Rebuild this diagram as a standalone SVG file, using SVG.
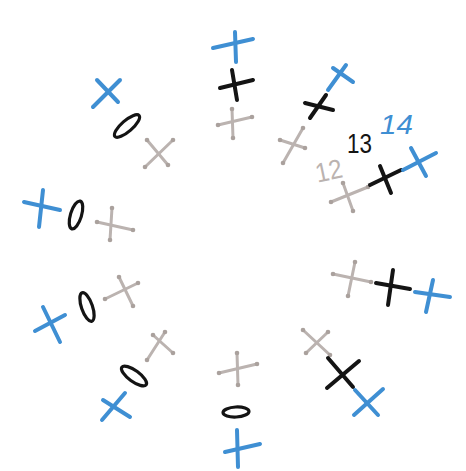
<svg xmlns="http://www.w3.org/2000/svg" width="466" height="471" viewBox="0 0 466 471">
<defs>
<style>
.b{stroke:#3f8fd3;stroke-width:4;stroke-linecap:round;fill:none}
.k{stroke:#141414;stroke-width:4;stroke-linecap:round;fill:none}
.g{stroke:#bbb3b0;stroke-width:3;stroke-linecap:round;fill:none;marker-start:url(#dot);marker-end:url(#dot)}
.o{stroke:#141414;stroke-width:3.2;fill:none}
.t{font-family:"Liberation Sans",Arial,sans-serif;font-size:27px}
</style>
<marker id="dot" markerUnits="userSpaceOnUse" markerWidth="6" markerHeight="6" refX="3" refY="3"><circle cx="3" cy="3" r="2.3" fill="#aaa19d"/></marker>
</defs>
<rect width="466" height="471" fill="#ffffff"/>
<g id="connectors"/>
<!-- top column -->
<g id="top-blue"><line class="b" x1="213" y1="48" x2="253" y2="39"/><line class="b" x1="235" y1="32" x2="236" y2="62"/></g>
<g id="top-black"><line class="k" x1="220" y1="88" x2="253" y2="80"/><line class="k" x1="232" y1="70" x2="237" y2="100"/></g>
<g id="top-grey"><line class="g" x1="218" y1="125" x2="252" y2="117"/><line class="g" x1="232" y1="109" x2="233" y2="138"/></g>
<!-- upper left diagonal -->
<g id="ul-blue"><line class="b" x1="93" y1="107" x2="120" y2="80"/><line class="b" x1="97" y1="80" x2="118" y2="102"/></g>
<g id="ul-oval"><ellipse class="o" cx="127" cy="126" rx="16" ry="5.5" transform="rotate(-41 127 126)"/></g>
<g id="ul-grey"><line class="g" x1="145" y1="167" x2="173" y2="140"/><line class="g" x1="147" y1="140" x2="168" y2="165"/></g>
<!-- left -->
<g id="l-blue"><line class="b" x1="24" y1="202" x2="60" y2="210"/><line class="b" x1="43" y1="190" x2="39" y2="227"/></g>
<g id="l-oval"><ellipse class="o" cx="76" cy="215" rx="14.5" ry="5.5" transform="rotate(-73 76 215)"/></g>
<g id="l-grey"><line class="g" x1="97" y1="222" x2="133" y2="230"/><line class="g" x1="112" y1="208" x2="110" y2="240"/></g>
<!-- lower left -->
<g id="ll-grey1"><line class="g" x1="105" y1="299" x2="138" y2="283"/><line class="g" x1="119" y1="277" x2="133" y2="306"/></g>
<g id="ll-blue1"><line class="b" x1="35" y1="331" x2="65" y2="315"/><line class="b" x1="43" y1="307" x2="60" y2="342"/></g>
<g id="ll-oval1"><ellipse class="o" cx="87" cy="307" rx="15" ry="5.5" transform="rotate(71 87 307)"/></g>
<g id="ll-grey2"><line class="g" x1="147" y1="360" x2="165" y2="332"/><line class="g" x1="153" y1="335" x2="173" y2="353"/></g>
<g id="ll-oval2"><ellipse class="o" cx="134" cy="376" rx="15" ry="5.5" transform="rotate(36 134 376)"/></g>
<g id="ll-blue2"><line class="b" x1="102" y1="420" x2="125" y2="393"/><line class="b" x1="103" y1="400" x2="130" y2="417"/></g>
<!-- bottom column -->
<g id="bot-grey"><line class="g" x1="219" y1="373" x2="257" y2="364"/><line class="g" x1="237" y1="353" x2="238" y2="385"/></g>
<g id="bot-oval"><ellipse class="o" cx="236" cy="412" rx="13" ry="5" transform="rotate(-3 236 412)"/></g>
<g id="bot-blue"><line class="b" x1="225" y1="452" x2="260" y2="444"/><line class="b" x1="237" y1="430" x2="238" y2="467"/></g>
<!-- right -->
<g id="r-grey"><line class="g" x1="333" y1="274" x2="371" y2="282"/><line class="g" x1="355" y1="262" x2="348" y2="296"/></g>
<g id="r-black"><line class="k" x1="376" y1="283" x2="410" y2="289"/><line class="k" x1="393" y1="270" x2="388" y2="305"/></g>
<g id="r-blue"><line class="b" x1="415" y1="292" x2="450" y2="297"/><line class="b" x1="433" y1="280" x2="426" y2="312"/></g>
<!-- lower right -->
<g id="lr-grey"><line class="g" x1="303" y1="330" x2="330" y2="355"/><line class="g" x1="306" y1="353" x2="328" y2="332"/></g>
<g id="lr-black"><line class="k" x1="328" y1="358" x2="353" y2="387"/><line class="k" x1="327" y1="388" x2="359" y2="361"/></g>
<g id="lr-blue"><line class="b" x1="355" y1="390" x2="378" y2="415"/><line class="b" x1="354" y1="415" x2="383" y2="389"/></g>
<!-- upper right diagonal -->
<g id="ur-blue"><line class="b" x1="328" y1="90" x2="346" y2="65"/><line class="b" x1="333" y1="68" x2="353" y2="82"/></g>
<g id="ur-black"><line class="k" x1="310" y1="118" x2="326" y2="95"/><line class="k" x1="305" y1="103" x2="333" y2="110"/></g>
<g id="ur-grey"><line class="g" x1="280" y1="140" x2="305" y2="148"/><line class="g" x1="303" y1="128" x2="283" y2="163"/></g>
<!-- right upper row -->
<g id="ru-grey"><line class="g" x1="331" y1="202" x2="368" y2="187"/><line class="g" x1="343" y1="183" x2="353" y2="211"/></g>
<g id="ru-black"><line class="k" x1="370" y1="185" x2="401" y2="170"/><line class="k" x1="380" y1="166" x2="391" y2="193"/></g>
<g id="ru-blue"><line class="b" x1="403" y1="170" x2="436" y2="153"/><line class="b" x1="411" y1="148" x2="426" y2="176"/></g>
<!-- round numbers -->
<g id="label-12"><text class="t" x="315" y="180" fill="#bbb3b0" textLength="27" lengthAdjust="spacingAndGlyphs" transform="rotate(-12 329 169)">12</text></g>
<g id="label-13"><text class="t" x="347" y="153" fill="#141414" textLength="25" lengthAdjust="spacingAndGlyphs">13</text></g>
<g id="label-14"><text class="t" x="380" y="134" fill="#3f8fd3" font-style="italic" textLength="33" lengthAdjust="spacingAndGlyphs">14</text></g>
</svg>
